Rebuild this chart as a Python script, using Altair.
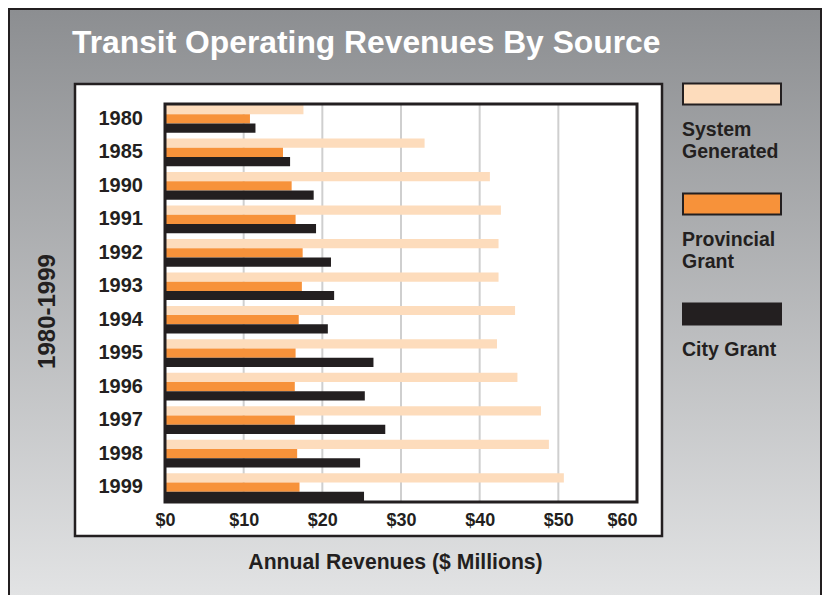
import altair as alt
import pandas as pd

# ---------------- data ----------------
years = ["1980", "1985", "1990", "1991", "1992", "1993",
         "1994", "1995", "1996", "1997", "1998", "1999"]
series = ["System Generated", "Provincial Grant", "City Grant"]
system_generated = [17.6, 33.0, 41.3, 42.7, 42.4, 42.4, 44.5, 42.2, 44.8, 47.8, 48.8, 50.7]
provincial_grant = [10.8, 15.0, 16.1, 16.6, 17.5, 17.4, 17.0, 16.6, 16.5, 16.5, 16.8, 17.1]
city_grant = [11.5, 15.9, 18.9, 19.2, 21.1, 21.5, 20.7, 26.5, 25.4, 28.0, 24.8, 25.3]
tick_values = [0, 10, 20, 30, 40, 50, 60]
grid_values = [10, 20, 30, 40, 50]
colors = ["#fddcbc", "#f7923a", "#231f20"]

rows = []
for name, vals in zip(series, [system_generated, provincial_grant, city_grant]):
    for yr, v in zip(years, vals):
        rows.append({"Year": yr, "Source": name, "value": v})
df = pd.DataFrame(rows)

DARK = "#231f20"
FONT = "Liberation Sans"
W, H = 472, 398

x_enc = alt.X(
    "value:Q",
    scale=alt.Scale(domain=[0, 60], nice=False, zero=True),
    axis=alt.Axis(
        values=tick_values,
        labelExpr="'$' + datum.value",
        grid=False, ticks=False, tickSize=0, domain=False,
        labelPadding=9, labelFontSize=18, labelFont=FONT,
        labelFontWeight="bold", labelColor=DARK, labelFlush=False,
        labelAlign={"condition": {"test": "datum.value == 60", "value": "right"}, "value": "center"},
        title="Annual Revenues ($ Millions)",
        titleFont=FONT, titleFontSize=21.2, titleFontWeight="bold", titleColor=DARK,
        titleX=230, titleY=66, titleBaseline="alphabetic", titleAlign="center",
        zindex=1,
    ),
)

one = alt.Data(values=[{"k": 1}])

background = alt.Chart(one).mark_rect(
    fill=alt.Gradient(
        gradient="linear",
        stops=[alt.GradientStop(color="#8c8e91", offset=0),
               alt.GradientStop(color="#e6e7e8", offset=1)],
        x1=0, x2=0, y1=0, y2=1,
    ),
    stroke=DARK, strokeWidth=2,
).encode(x=alt.value(-156), x2=alt.value(656), y=alt.value(-95), y2=alt.value(520))

white_box = alt.Chart(one).mark_rect(
    fill="white", stroke=DARK, strokeWidth=2.5
).encode(x=alt.value(-90), x2=alt.value(497), y=alt.value(-20), y2=alt.value(432))

grid = alt.Chart(pd.DataFrame({"value": grid_values})).mark_rule(
    color="#cfcfcf", strokeWidth=2
).encode(x=x_enc)

legend = alt.Legend(
    title=None, orient="none", legendX=516, legendY=-34, direction="vertical",
    symbolType="M-0.98,-0.752H0.98V-0.332H-0.98Z", symbolSize=10000,
    symbolStrokeColor=DARK, symbolStrokeWidth=2,
    labelOffset={"expr": "-101"}, labelAlign="left", labelBaseline="top",
    labelFont=FONT, labelFontSize=19.5, labelFontWeight="bold", labelColor=DARK,
    labelLimit=300, padding=0, rowPadding=19,
    labelExpr="datum.label == 'System Generated' ? ['System', 'Generated'] : "
              "datum.label == 'Provincial Grant' ? ['Provincial', 'Grant'] : datum.label",
)

bars = alt.Chart(df).mark_bar().encode(
    x=x_enc,
    y=alt.Y(
        "Year:N", sort=years,
        scale=alt.Scale(paddingInner=0.1727, paddingOuter=0.03),
        axis=alt.Axis(
            title="1980-1999", titleFont=FONT, titleFontSize=24, titleFontWeight="bold",
            titleColor=DARK, titleX=-111, titleY=207, titleAngle=270,
            titleBaseline="alphabetic", titleAlign="center",
            labelAlign="left", labelBaseline="middle", labelPadding=67,
            ticks=False, tickSize=0, domain=False, grid=False,
            labelFont=FONT, labelFontSize=20, labelFontWeight="bold", labelColor=DARK,
            zindex=1,
        ),
    ),
    yOffset=alt.YOffset("Source:N", sort=series,
                        scale=alt.Scale(paddingInner=0, paddingOuter=0)),
    color=alt.Color(
        "Source:N",
        scale=alt.Scale(domain=series, range=colors),
        legend=legend,
    ),
)

frame = alt.Chart(one).mark_rect(
    filled=False, stroke=DARK, strokeWidth=3
).encode(x=alt.value(0), x2=alt.value(W), y=alt.value(0), y2=alt.value(H))

chart = alt.layer(background, white_box, grid, bars, frame).properties(
    width=W, height=H,
    autosize=alt.AutoSizeParams(type="none"),
    padding={"left": 157, "top": 96, "right": 185, "bottom": 93},
    title=alt.TitleParams(
        "Transit Operating Revenues By Source",
        anchor="start", frame="group", font=FONT, fontSize=31.8, fontWeight="bold",
        color="white", baseline="alphabetic", offset=-76.5, dx=-93,
    ),
).configure_view(strokeWidth=0)

chart.save("out.html", embed_options={"renderer": "svg", "actions": False})
